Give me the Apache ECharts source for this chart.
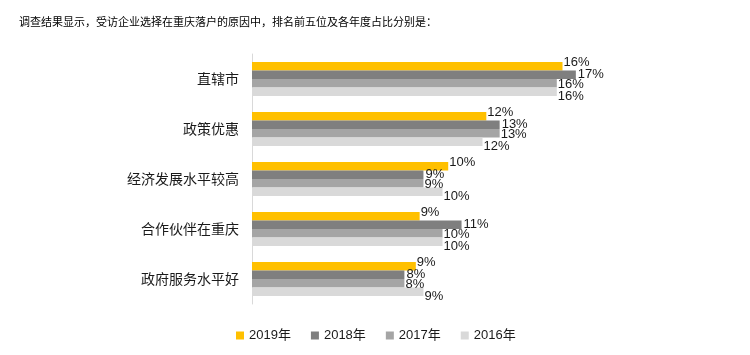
<!DOCTYPE html>
<html>
<head>
<meta charset="utf-8">
<script src="https://cdn.jsdelivr.net/npm/echarts@6/dist/echarts.min.js"></script>
<style>html,body{margin:0;padding:0;background:#fff;}#c{width:750px;height:355px;}</style>
</head>
<body>
<div id="c"></div>
<script>
var titleText = '调查结果显示，受访企业选择在重庆落户的原因中，排名前五位及各年度占比分别是：';
var categories = ['直辖市', '政策优惠', '经济发展水平较高', '合作伙伴在重庆', '政府服务水平好'];
var seriesNames = ['2019年', '2018年', '2017年', '2016年'];
var v2019 = [16.3, 12.3, 10.3, 8.8, 8.6];
var v2018 = [17.0, 13.0, 9.0, 11.0, 8.0];
var v2017 = [16.0, 13.0, 9.0, 10.0, 8.0];
var v2016 = [16.0, 12.1, 10.0, 10.0, 9.0];
var colors = ['#FFC000', '#7F7F7F', '#A5A5A5', '#D9D9D9'];
var labelOffsets = [[0, -4], [1, 0], [0, 1], [0, 5]];

var FONT = "Arial, 'Liberation Sans', 'Noto Sans CJK SC', sans-serif";
var data = [v2019, v2018, v2017, v2016];
var series = seriesNames.map(function (n, i) {
  return {
    name: n,
    type: 'bar',
    data: data[i],
    barGap: '0%',
    barCategoryGap: '32%',
    itemStyle: { color: colors[i] },
    label: {
      show: true,
      position: 'right',
      distance: 1,
      offset: labelOffsets[i],
      color: '#1a1a1a',
      fontSize: 13,
      fontFamily: FONT,
      formatter: function (p) { return Math.round(p.value) + '%'; }
    }
  };
});

var chart = echarts.init(document.getElementById('c'));
chart.setOption({
  animation: false,
  color: colors,
  title: {
    text: titleText,
    left: 14,
    top: 11,
    textStyle: { fontSize: 11, fontWeight: 'normal', color: '#000', fontFamily: "'Noto Sans CJK SC', sans-serif" }
  },
  legend: {
    bottom: 8,
    left: 231,
    itemWidth: 8,
    itemHeight: 8,
    itemGap: 20,
    icon: 'rect',
    textStyle: { fontSize: 13, color: '#1a1a1a', fontFamily: FONT },
    data: seriesNames
  },
  grid: { left: 252, right: 117, top: 54, bottom: 51 },
  xAxis: {
    type: 'value',
    min: 0,
    max: 20,
    show: false
  },
  yAxis: {
    type: 'category',
    inverse: true,
    data: categories,
    axisLine: { show: true, lineStyle: { color: '#d9d9d9', width: 1 } },
    axisTick: { show: false },
    axisLabel: { fontSize: 14, color: '#1a1a1a', margin: 13, fontFamily: "'Noto Sans CJK SC', sans-serif" }
  },
  series: series
});
</script>
</body>
</html>
